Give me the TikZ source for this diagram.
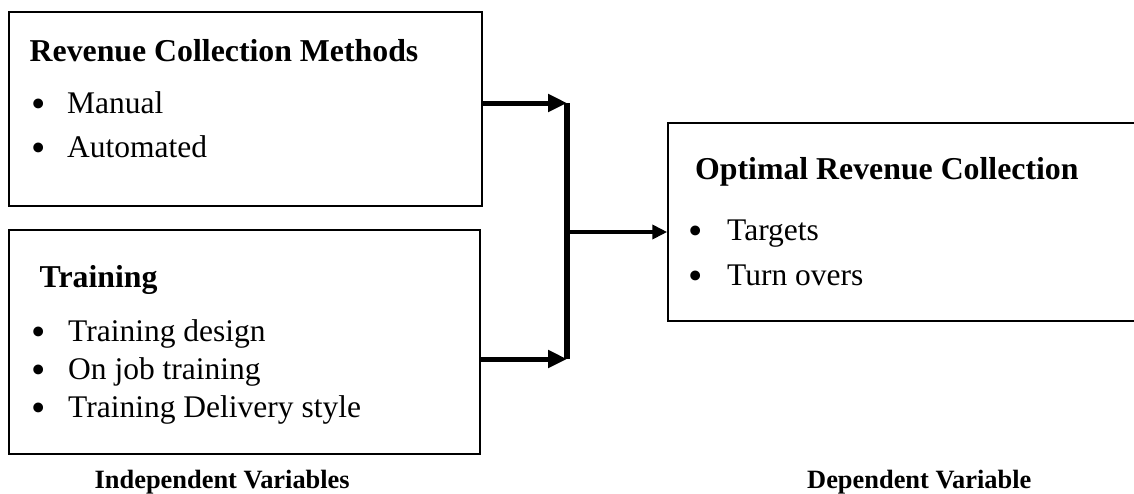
\documentclass[tikz,border=0pt]{standalone}
\usepackage{fontspec}
\setmainfont{Liberation Serif}
\usetikzlibrary{arrows.meta}
\newcommand{\bul}[1][37pt]{\makebox[#1][l]{\raisebox{-4.4pt}{\scalebox{1.3}{•}}}}
\begin{document}
\begin{tikzpicture}[x=1pt,y=-1pt,
  frame/.style={draw=black, line width=1.5pt, inner sep=0pt, rectangle},
  txt/.style={anchor=base west, inner sep=0pt, font=\fontsize{31.5}{36}\selectfont},
  head/.style={anchor=base west, inner sep=0pt, font=\fontsize{31.8}{36}\selectfont\bfseries},
  lbl/.style={anchor=base west, inner sep=0pt, font=\fontsize{26.4}{30}\selectfont\bfseries},
  bigarrow/.style={line width=5pt, -{Triangle[length=19pt,width=17pt]}},
  midarrow/.style={line width=4pt, -{Triangle[length=15pt,width=14pt]}},
  bus/.style={line width=6pt}
]
\clip (0,0) rectangle (1134,493);
\fill[white] (0,0) rectangle (1134,493);

% boxes
\node[frame, minimum width=473pt, minimum height=194pt] (box1) at (245.5,109) {};
\node[frame, minimum width=471pt, minimum height=224pt] (box2) at (244.5,342) {};
\node[frame, minimum width=482pt, minimum height=198pt] (box3) at (909,222) {};

% box 1 text
\node[head] (h1) at (29.5,61) {Revenue Collection Methods};
\node[txt] (i11) at (31,113) {\bul[36pt]Manual};
\node[txt] (i12) at (31,157) {\bul[36pt]Automated};

% box 2 text
\node[head] (h2) at (39.5,287) {Training};
\node[txt] (i21) at (31,341) {\bul[37pt]Training design};
\node[txt] (i22) at (31,379) {\bul[37pt]On job training};
\node[txt] (i23) at (31,417) {\bul[37pt]Training Delivery style};

% box 3 text
\node[head] (h3) at (695,179) {Optimal Revenue Collection};
\node[txt] (i31) at (688,240) {\bul[39pt]Targets};
\node[txt] (i32) at (688,285) {\bul[39pt]Turn overs};

% labels
\node[lbl] (l1) at (94.5,488) {Independent Variables};
\node[lbl] (l2) at (807,488) {Dependent Variable};

% connectors
\coordinate (jt) at (567,103);
\coordinate (jb) at (567,359);
\coordinate (jm) at (567,232);
\draw[bus] (jt) -- (jb);
\draw[bigarrow] (box1.east |- jt) -- (jt);
\draw[bigarrow] (box2.east |- jb) -- (jb);
\draw[midarrow] (jm) -- (box3.west |- jm);
\end{tikzpicture}
\end{document}
